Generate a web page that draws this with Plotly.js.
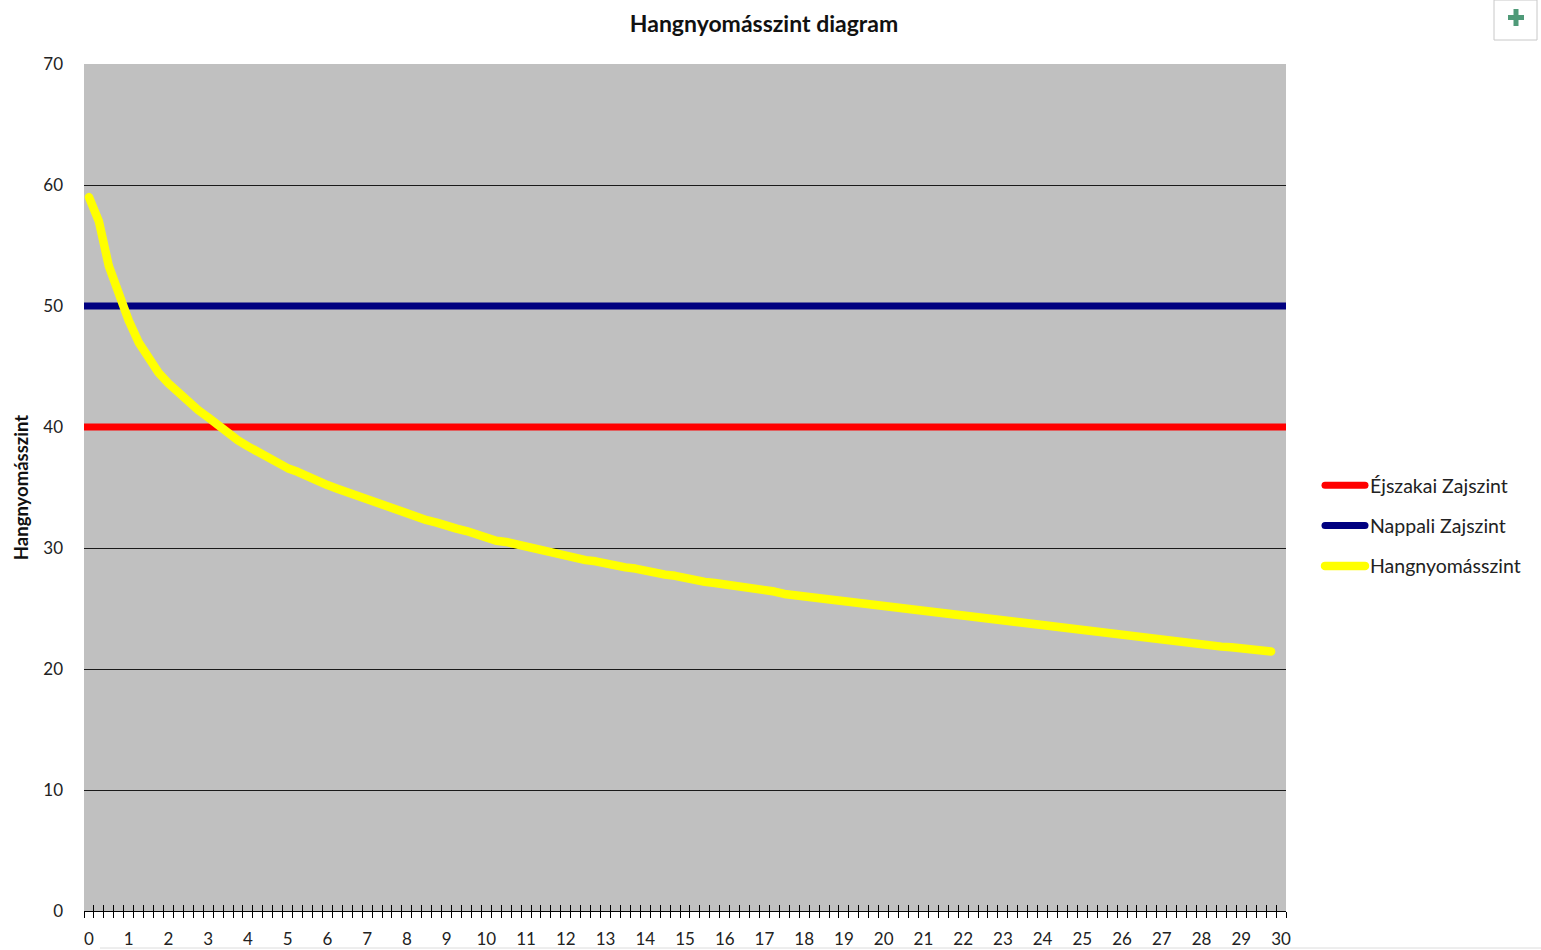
<!DOCTYPE html>
<html>
<head>
<meta charset="utf-8">
<script src="https://cdn.plot.ly/plotly-3.0.1.min.js"></script>
<style>
  html, body { margin: 0; padding: 0; background: #fff; }
  #chart { width: 1541px; height: 950px; }
  .scatterlayer path.js-line, .legendlines path { stroke-linecap: round; stroke-linejoin: round; }
</style>
</head>
<body>
<div id="chart"></div>
<script>
// ---- data ----
const chartTitle = 'Hangnyomásszint diagram';
const yTitle = 'Hangnyomásszint';
const seriesNames = ['Éjszakai Zajszint', 'Nappali Zajszint', 'Hangnyomásszint'];

// distance categories 0, 0.25, ... 30
const categories = [];
for (let i = 0; i <= 120; i++) categories.push(i / 4);

const tickLabels = ['0','1','2','3','4','5','6','7','8','9','10','11','12','13','14','15',
  '16','17','18','19','20','21','22','23','24','25','26','27','28','29','30'];
const tickValues = [0,1,2,3,4,5,6,7,8,9,10,11,12,13,14,15,16,17,18,19,20,21,22,23,24,25,26,27,28,29,30];

const nightLimit = 40;  // Éjszakai Zajszint
const dayLimit = 50;    // Nappali Zajszint

const soundLevel = [
  59.0, 57.0, 53.3, 50.8,
  48.8, 47.0, 45.6, 44.5,
  43.6, 42.8, 42.0, 41.4,
  40.8, 40.1, 39.5, 38.9,
  38.4, 37.9, 37.5, 37.0,
  36.6, 36.3, 35.9, 35.5,
  35.2, 34.9, 34.6, 34.3,
  34.0, 33.7, 33.4, 33.1,
  32.8, 32.6, 32.3, 32.1,
  31.8, 31.6, 31.4, 31.1,
  30.8, 30.6, 30.5, 30.3,
  30.1, 29.9, 29.7, 29.5,
  29.4, 29.2, 29.0, 28.9,
  28.7, 28.6, 28.4, 28.3,
  28.1, 28.0, 27.8, 27.7,
  27.5, 27.4, 27.2, 27.1,
  27.0, 26.9, 26.7, 26.6,
  26.5, 26.4, 26.2, 26.1,
  26.0, 25.9, 25.8, 25.7,
  25.6, 25.5, 25.3, 25.2,
  25.1, 25.0, 24.9, 24.8,
  24.7, 24.6, 24.5, 24.4,
  24.3, 24.2, 24.1, 24.0,
  23.9, 23.8, 23.7, 23.6,
  23.5, 23.4, 23.3, 23.25,
  23.15, 23.05, 22.95, 22.85,
  22.75, 22.65, 22.55, 22.5,
  22.4, 22.3, 22.2, 22.15,
  22.05, 21.95, 21.85, 21.8,
  21.7, 21.6, 21.55, 21.45,
  null
];

const nightSeries = categories.map(() => nightLimit);
const daySeries = categories.map(() => dayLimit);

// ---- chart ----
const FONT = 'Lato, "Open Sans", sans-serif';
const half = 0.125;
const boundaries = [];
for (let i = 0; i <= 121; i++) boundaries.push(-half + i * 0.25);
const catRange = [-half, 30 + half];

const traces = [
  { x: categories, y: soundLevel, xaxis: 'x', yaxis: 'y', mode: 'lines', opacity: 0,
    line: { width: 0 }, showlegend: false, hoverinfo: 'skip' },
  { x: categories, y: nightSeries, xaxis: 'x2', yaxis: 'y', mode: 'lines', name: seriesNames[0],
    line: { color: '#FF0000', width: 7 }, legendgroup: 'a' },
  { x: categories, y: daySeries, xaxis: 'x2', yaxis: 'y', mode: 'lines', name: seriesNames[1],
    line: { color: '#000080', width: 7 }, legendgroup: 'b' },
  { x: categories, y: soundLevel, xaxis: 'x3', yaxis: 'y', mode: 'lines', name: seriesNames[2],
    line: { color: '#FFFF00', width: 8.5 }, legendgroup: 'c', connectgaps: false }
];

const px = v => (v - 84) / 1202;
const py = v => (911 - v) / 847;

const layout = {
  width: 1541, height: 950,
  margin: { l: 84, r: 255, t: 64, b: 39, pad: 0 },
  paper_bgcolor: '#FFFFFF',
  plot_bgcolor: '#C0C0C0',
  font: { family: FONT, size: 17, color: '#222' },
  title: { text: chartTitle, font: { family: FONT, size: 23, color: '#111', weight: 'bold' },
    x: 764 / 1541, xref: 'container', xanchor: 'center', y: 1 - 24 / 950, yref: 'container', yanchor: 'middle' },
  showlegend: true,
  legend: { x: px(1320), xanchor: 'left', y: py(526), yanchor: 'middle',
    font: { family: FONT, size: 19.5, color: '#222' }, tracegroupgap: 12, itemwidth: 40,
    bgcolor: 'rgba(0,0,0,0)' },
  xaxis: {
    range: catRange, tickmode: 'array', tickvals: tickValues, ticktext: tickLabels,
    ticks: '', showgrid: false, zeroline: false, showline: true, linecolor: '#000', linewidth: 1,
    tickfont: { family: FONT, size: 17, color: '#222' }, ticklabelstandoff: 13,
    minor: { tickmode: 'array', tickvals: boundaries, ticks: 'outside', ticklen: 6, tickwidth: 1, tickcolor: '#000', showgrid: false },
    fixedrange: true
  },
  xaxis2: { overlaying: 'x', anchor: 'y', range: [0, 30], visible: false, fixedrange: true },
  xaxis3: { overlaying: 'x', anchor: 'y', range: catRange, tickmode: 'array', tickvals: boundaries,
    ticks: 'inside', ticklen: 6, tickwidth: 1, tickcolor: '#000', showticklabels: false,
    showgrid: false, zeroline: false, showline: false, fixedrange: true },
  yaxis: {
    range: [0, 70], tickmode: 'linear', tick0: 0, dtick: 10, ticks: '',
    showgrid: true, gridcolor: '#1a1a1a', gridwidth: 1, zeroline: false, showline: false,
    tickfont: { family: FONT, size: 17, color: '#222' }, ticklabelstandoff: 20,
    title: { text: yTitle, font: { family: FONT, size: 18.5, color: '#111', weight: 'bold' }, standoff: 9 },
    fixedrange: true
  },
  shapes: [
    { type: 'rect', xref: 'paper', yref: 'paper', x0: px(1494), x1: px(1537), y0: py(40), y1: py(0),
      line: { color: '#c8c8c8', width: 1 }, fillcolor: '#ffffff' },
    { type: 'rect', xref: 'paper', yref: 'paper', x0: px(1508), x1: px(1524), y0: py(20), y1: py(15),
      line: { width: 0 }, fillcolor: '#4f9a78' },
    { type: 'rect', xref: 'paper', yref: 'paper', x0: px(1513.5), x1: px(1518.5), y0: py(26), y1: py(9),
      line: { width: 0 }, fillcolor: '#4f9a78' },
    { type: 'line', xref: 'paper', yref: 'paper', x0: px(100), x1: px(1541), y0: py(948), y1: py(948),
      line: { color: '#dcdcdc', width: 1 } }
  ]
};

Plotly.newPlot('chart', traces, layout, { displayModeBar: false, staticPlot: true });
</script>
</body>
</html>
